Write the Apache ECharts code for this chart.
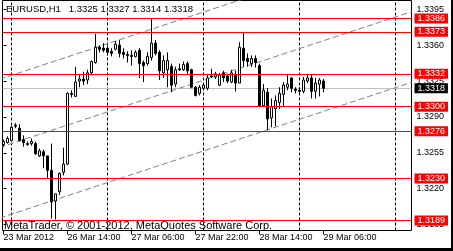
<!DOCTYPE html>
<html><head><meta charset="utf-8">
<script src="https://cdn.jsdelivr.net/npm/echarts@6/dist/echarts.min.js"></script>
<style>html,body{margin:0;padding:0;background:#000;width:453px;height:251px;overflow:hidden}
#c{width:451px;height:248px;background:#fff}</style></head>
<body><div id="c"></div>
<script>
const symbol = 'EURUSD';
const period = 'H1';
const opens = [1.3263,1.3265,1.3267,1.3282,1.3279,1.3268,1.3264,1.3264,1.3264,1.3252,
1.3256,1.3252,1.3238,1.3208,1.3217,1.3236,1.3244,1.3313,1.3310,1.3325,
1.3327,1.3326,1.3333,1.3343,1.3358,1.3357,1.3357,1.3354,1.3356,1.3360,
1.3353,1.3351,1.3350,1.3349,1.3355,1.3343,1.3342,1.3348,1.3362,1.3353,
1.3333,1.3336,1.3339,1.3322,1.3337,1.3336,1.3342,1.3336,1.3319,1.3313,
1.3318,1.3318,1.3330,1.3329,1.3321,1.3333,1.3330,1.3324,1.3331,1.3323,
1.3357,1.3347,1.3342,1.3347,1.3340,1.3301,1.3314,1.3289,1.3298,1.3304,
1.3312,1.3319,1.3328,1.3317,1.3316,1.3315,1.3325,1.3328,1.3315,1.3322,
1.3325];
const highs = [1.3268,1.3271,1.3281,1.3284,1.3283,1.3272,1.3266,1.3269,1.3266,1.3259,
1.3258,1.3252,1.3264,1.3215,1.3236,1.3260,1.3314,1.3316,1.3339,1.3331,
1.3334,1.3336,1.3345,1.3371,1.3360,1.3362,1.3359,1.3357,1.3364,1.3365,
1.3357,1.3354,1.3355,1.3355,1.3357,1.3345,1.3353,1.3386,1.3365,1.3355,
1.3350,1.3353,1.3342,1.3339,1.3342,1.3344,1.3344,1.3337,1.3320,1.3321,
1.3323,1.3332,1.3337,1.3334,1.3333,1.3335,1.3332,1.3336,1.3335,1.3363,
1.3373,1.3352,1.3350,1.3350,1.3342,1.3322,1.3318,1.3308,1.3311,1.3319,
1.3324,1.3332,1.3329,1.3319,1.3319,1.3329,1.3332,1.3331,1.3328,1.3328,
1.3327];
const lows = [1.3261,1.3264,1.3266,1.3279,1.3266,1.3261,1.3262,1.3262,1.3253,1.3251,
1.3240,1.3230,1.3191,1.3190,1.3214,1.3233,1.3243,1.3309,1.3310,1.3319,
1.3321,1.3322,1.3332,1.3342,1.3353,1.3353,1.3350,1.3349,1.3355,1.3348,
1.3347,1.3343,1.3340,1.3348,1.3328,1.3324,1.3340,1.3345,1.3350,1.3326,
1.3328,1.3319,1.3314,1.3319,1.3335,1.3335,1.3332,1.3318,1.3310,1.3311,
1.3316,1.3316,1.3328,1.3327,1.3320,1.3324,1.3323,1.3323,1.3315,1.3323,
1.3339,1.3339,1.3339,1.3338,1.3300,1.3300,1.3277,1.3280,1.3281,1.3298,
1.3300,1.3316,1.3314,1.3313,1.3313,1.3313,1.3323,1.3308,1.3308,1.3310,
1.3314];
const closes = [1.3266,1.3269,1.3280,1.3281,1.3267,1.3265,1.3263,1.3266,1.3254,1.3257,
1.3252,1.3238,1.3207,1.3215,1.3235,1.3244,1.3313,1.3312,1.3324,1.3327,
1.3325,1.3333,1.3344,1.3358,1.3356,1.3355,1.3353,1.3352,1.3361,1.3352,
1.3351,1.3350,1.3349,1.3353,1.3342,1.3340,1.3349,1.3362,1.3352,1.3335,
1.3345,1.3345,1.3321,1.3336,1.3336,1.3341,1.3335,1.3319,1.3311,1.3319,
1.3321,1.3328,1.3329,1.3332,1.3331,1.3328,1.3325,1.3333,1.3323,1.3358,
1.3345,1.3344,1.3347,1.3343,1.3301,1.3316,1.3288,1.3300,1.3306,1.3313,
1.3321,1.3322,1.3318,1.3316,1.3315,1.3326,1.3328,1.3315,1.3323,1.3326,
1.3318];
const timeTickIdx = [0, 16, 32, 48, 64, 80];
const timeTickLabels = ['23 Mar 2012', '26 Mar 14:00', '27 Mar 06:00', '27 Mar 22:00', '28 Mar 14:00', '29 Mar 06:00'];
const daySeparatorIdx = [2, 26, 50, 74, 98];
const priceTicks = [1.3185, 1.3220, 1.3255, 1.3290, 1.3325, 1.3360, 1.3395];
const levels = [1.3386, 1.3373, 1.3332, 1.3300, 1.3276, 1.3230, 1.3189];
const channelUpper = [[-1, 1.33267], [103, 1.34604]];
const channelMiddle = [[-1, 1.32602], [103, 1.33939]];
const channelLower = [[-1, 1.31913], [103, 1.33250]];
const copyright = 'MetaTrader, \u00a9 2001-2012, MetaQuotes Software Corp.';

const FONT = "'Liberation Sans', Arial, sans-serif";
const fmt = v => Number(v).toFixed(4);
const last = opens.length - 1;
const bid = closes[last];
const candles = opens.map((o, i) => [i, o, closes[i], lows[i], highs[i]]);

const chart = echarts.init(document.getElementById('c'), null, {renderer: 'canvas'});
const labelBox = (bg) => ({
  show: true, position: 'end', distance: 3, color: '#fff', backgroundColor: bg,
  fontSize: 9, fontFamily: FONT, padding: [1, 3, 0, 3], lineHeight: 9,
  formatter: p => fmt(p.value)
});
const channelSeries = (d) => ({
  type: 'line', data: d, symbol: 'none', silent: true, clip: true, z: 2,
  lineStyle: {color: '#808080', width: 1, type: [6, 3]}
});
chart.setOption({
  animation: false,
  textStyle: {fontFamily: FONT},
  title: [
    {text: symbol + ',' + period + '   ' + fmt(opens[last]) + ' ' + fmt(highs[last]) + ' ' + fmt(lows[last]) + ' ' + fmt(closes[last]),
     left: 6, top: 4, padding: 0, textStyle: {fontSize: 9.5, fontWeight: 'normal', color: '#000', fontFamily: FONT}},
    {text: copyright, left: 4, top: 220, padding: 0,
     textStyle: {fontSize: 11, fontWeight: 'normal', color: '#000', fontFamily: FONT}}
  ],
  grid: {left: 2.5, top: 0.5, width: 409, height: 230, show: true, borderColor: '#000', borderWidth: 1, backgroundColor: 'transparent'},
  xAxis: {
    type: 'value', min: -0.25, max: 102,
    axisLine: {show: false}, splitLine: {show: false},
    axisTick: {show: true, customValues: timeTickIdx, length: 4, lineStyle: {color: '#000'}},
    axisLabel: {customValues: timeTickIdx, formatter: v => timeTickLabels[timeTickIdx.indexOf(v)],
      align: 'left', fontSize: 9, color: '#000', margin: 3, fontFamily: FONT}
  },
  yAxis: {
    type: 'value', position: 'right', min: 1.317925, max: 1.340355,
    axisLine: {show: false}, splitLine: {show: false},
    axisTick: {show: true, customValues: priceTicks, length: 3, lineStyle: {color: '#000'}},
    axisLabel: {customValues: priceTicks, formatter: v => fmt(v), fontSize: 9, color: '#000', margin: 5, fontFamily: FONT}
  },
  series: [
    {
      type: 'line', data: [], silent: true,
      markLine: {
        silent: true, symbol: 'none', z: 1, animation: false, precision: 6,
        label: {show: false},
        data: daySeparatorIdx.map(v => ({xAxis: v, lineStyle: {color: '#000', width: 1, type: [3, 2]}}))
          .concat([{yAxis: bid, lineStyle: {color: '#c0c0c0', width: 1, type: 'solid'}, label: labelBox('#000')}])
      }
    },
    {
      type: 'candlestick', data: candles, barWidth: 2, silent: true, z: 3,
      itemStyle: {color: '#fff', color0: '#000', borderColor: '#000', borderColor0: '#000', borderWidth: 1}
    },
    channelSeries(channelUpper),
    channelSeries(channelMiddle),
    channelSeries(channelLower),
    {
      type: 'line', data: [], silent: true,
      markLine: {
        silent: true, symbol: 'none', z: 5, animation: false, precision: 6,
        data: levels.map(v => ({yAxis: v, lineStyle: {color: '#ff0000', width: 1, type: 'solid'}, label: labelBox('#ff0000')}))
      }
    }
  ]
});
</script></body></html>
